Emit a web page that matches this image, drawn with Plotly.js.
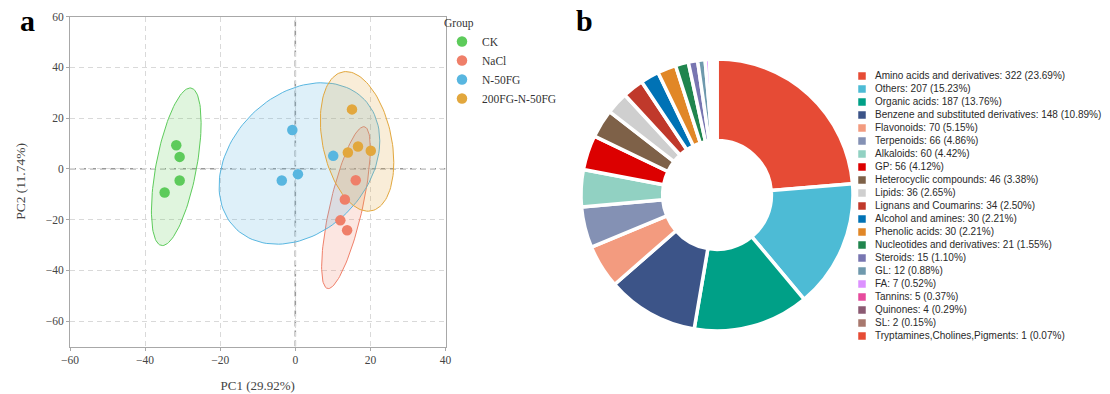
<!DOCTYPE html>
<html>
<head>
<meta charset="utf-8">
<script src="https://cdn.plot.ly/plotly-3.0.1.min.js"></script>
<style>html,body{margin:0;padding:0;background:#fff;}#chart{width:1110px;height:394px;}</style>
</head>
<body>
<div id="chart"></div>
<script>
// ---------- Panel a: PCA scores ----------
const groups = ['CK', 'NaCl', 'N-50FG', '200FG-N-50FG'];
const groupColors = ['#5DCB5B', '#EF7F69', '#58B6E0', '#E2A73D'];
const groupFills = ['rgba(100,205,90,0.20)', 'rgba(240,128,106,0.20)', 'rgba(90,182,224,0.20)', 'rgba(226,167,61,0.20)'];
const pc1 = [
  [-31.7, -30.8, -30.8, -34.8],
  [16.1, 13.2, 12.0, 13.8],
  [-0.8, -3.6, 0.7, 10.1],
  [15.1, 14.0, 16.7, 20.1]
];
const pc2 = [
  [9.3, 4.7, -4.6, -9.3],
  [-4.5, -12.1, -20.3, -24.2],
  [15.3, -4.6, -2.1, 5.1],
  [23.4, 6.4, 8.8, 7.1]
];
// confidence ellipses (center, half extents, correlation)
const ellCx = [-31.7, 13.5, 1.1, 16.45];
const ellCy = [0.8, -15.3, 2.1, 10.8];
const ellRx = [6.62, 6.49, 21.4, 9.78];
const ellRy = [31.05, 31.9, 31.8, 27.5];
const ellRho = [0.56, 0.73, 0.28, -0.30];

// ---------- Panel b: metabolite classes ----------
const classNames = ['Amino acids and derivatives', 'Others', 'Organic acids', 'Benzene and substituted derivatives',
  'Flavonoids', 'Terpenoids', 'Alkaloids', 'GP', 'Heterocyclic compounds', 'Lipids', 'Lignans and Coumarins',
  'Alcohol and amines', 'Phenolic acids', 'Nucleotides and derivatives', 'Steroids', 'GL', 'FA', 'Tannins',
  'Quinones', 'SL', 'Tryptamines,Cholines,Pigments'];
const classCounts = [322, 207, 187, 148, 70, 66, 60, 56, 46, 36, 34, 30, 30, 21, 15, 12, 7, 5, 4, 2, 1];
const classColors = ['#E64B35', '#4DBBD5', '#00A087', '#3C5488', '#F39B7F', '#8491B4', '#91D1C2', '#DC0000',
  '#7E6148', '#CFCFCF', '#C0392B', '#0072B5', '#E18727', '#20854E', '#7876B1', '#6F99AD', '#DC91FF',
  '#E64B9D', '#8B5A72', '#A8786E', '#E64B35'];

const W = 1110, H = 394;
const serif = '"Liberation Serif", "Times New Roman", serif';
const sans = '"Liberation Sans", Arial, sans-serif';

const traces = [];
// ellipses
for (let g = 0; g < groups.length; g++) {
  const ex = [], ey = [];
  const s = Math.sqrt(1 - ellRho[g] * ellRho[g]);
  for (let i = 0; i <= 120; i++) {
    const t = 2 * Math.PI * i / 120;
    ex.push(ellCx[g] + ellRx[g] * Math.cos(t));
    ey.push(ellCy[g] + ellRy[g] * (ellRho[g] * Math.cos(t) + s * Math.sin(t)));
  }
  traces.push({
    type: 'scatter', mode: 'lines', x: ex, y: ey, fill: 'toself',
    fillcolor: groupFills[g], line: {color: groupColors[g], width: 1},
    hoverinfo: 'skip', showlegend: false, xaxis: 'x', yaxis: 'y'
  });
}
// points
for (let g = 0; g < groups.length; g++) {
  traces.push({
    type: 'scatter', mode: 'markers', name: groups[g], x: pc1[g], y: pc2[g],
    marker: {color: groupColors[g], size: 10.5}, xaxis: 'x', yaxis: 'y'
  });
}
// donut
const total = classCounts.reduce((a, b) => a + b, 0);
traces.push({
  type: 'pie', labels: classNames, values: classCounts, sort: false, direction: 'clockwise', rotation: 0,
  hole: 0.4, textinfo: 'none', showlegend: false,
  marker: {colors: classColors, line: {color: '#ffffff', width: 3.5}},
  domain: {x: [581 / W, 853 / W], y: [1 - 331 / H, 1 - 59 / H]}
});
// custom legend for donut
const rowIdx = classNames.map((_, i) => i);
traces.push({
  type: 'scatter', mode: 'markers', x: classNames.map(() => 862), y: rowIdx,
  marker: {symbol: 'square', size: 7.5, color: classColors}, showlegend: false, hoverinfo: 'skip',
  xaxis: 'x3', yaxis: 'y3'
});
traces.push({
  type: 'scatter', mode: 'text', x: classNames.map(() => 875), y: rowIdx,
  text: classNames.map((n, i) => n + ': ' + classCounts[i] + ' (' + (classCounts[i] / total * 100).toFixed(2) + '%)'),
  textposition: 'middle right', textfont: {family: sans, size: 10, color: '#2a2a2a'},
  showlegend: false, hoverinfo: 'skip', xaxis: 'x3', yaxis: 'y3'
});

const gridCol = '#d9d9d9';
const layout = {
  width: W, height: H, margin: {l: 0, r: 0, t: 0, b: 0},
  paper_bgcolor: '#fff', plot_bgcolor: '#fff',
  font: {family: serif, color: '#444'},
  xaxis: {
    domain: [70 / W, 445.5 / W], range: [-60, 40], tickvals: [-60, -40, -20, 0, 20, 40],
    showgrid: true, gridcolor: gridCol, griddash: '5px,4px', gridwidth: 1, zeroline: false,
    showline: true, mirror: true, linecolor: '#a8a8a8', linewidth: 1,
    ticks: 'outside', ticklen: 3, tickcolor: '#a8a8a8',
    tickfont: {family: serif, size: 11.5, color: '#444'},
    title: {text: 'PC1 (29.92%)', font: {family: serif, size: 13, color: '#444'}, standoff: 15},
    anchor: 'y', fixedrange: true
  },
  yaxis: {
    domain: [1 - 346.5 / H, 1 - 16.5 / H], range: [-70, 60], tickvals: [-60, -40, -20, 0, 20, 40, 60],
    showgrid: true, gridcolor: gridCol, griddash: '5px,4px', gridwidth: 1, zeroline: false,
    showline: true, mirror: true, linecolor: '#a8a8a8', linewidth: 1,
    ticks: 'outside', ticklen: 3, tickcolor: '#a8a8a8',
    tickfont: {family: serif, size: 11.5, color: '#444'},
    title: {text: 'PC2 (11.74%)', font: {family: serif, size: 13.5, color: '#444'}, standoff: 16},
    anchor: 'x', fixedrange: true
  },
  xaxis3: {domain: [850 / W, 1], range: [850, 1110], visible: false, fixedrange: true, anchor: 'y3'},
  yaxis3: {domain: [1 - 342.5 / H, 1 - 69.5 / H], range: [20.5, -0.5], visible: false, fixedrange: true, anchor: 'x3'},
  shapes: [
    {type: 'line', xref: 'x', yref: 'y', x0: 0, x1: 0, y0: -70, y1: 60, layer: 'below',
      line: {color: '#999999', width: 1.6, dash: '6px,4px'}},
    {type: 'line', xref: 'x', yref: 'y', x0: -60, x1: 40, y0: 0, y1: 0, layer: 'below',
      line: {color: '#999999', width: 1.6, dash: '6px,4px'}}
  ],
  legend: {
    x: 442 / W, y: 1 - 12 / H, xanchor: 'left', yanchor: 'top',
    font: {family: serif, size: 11.5, color: '#333'},
    title: {text: 'Group', font: {family: serif, size: 11.5, color: '#333'}},
    bgcolor: 'rgba(0,0,0,0)', tracegroupgap: 0
  },
  annotations: [
    {xref: 'paper', yref: 'paper', x: 27 / W, y: 1 - 20 / H, text: '<b>a</b>', showarrow: false,
      font: {family: serif, size: 30, color: '#000'}, xanchor: 'center', yanchor: 'middle'},
    {xref: 'paper', yref: 'paper', x: 585 / W, y: 1 - 20 / H, text: '<b>b</b>', showarrow: false,
      font: {family: serif, size: 30, color: '#000'}, xanchor: 'center', yanchor: 'middle'}
  ]
};

Plotly.newPlot('chart', traces, layout, {displayModeBar: false, staticPlot: true});
</script>
</body>
</html>
